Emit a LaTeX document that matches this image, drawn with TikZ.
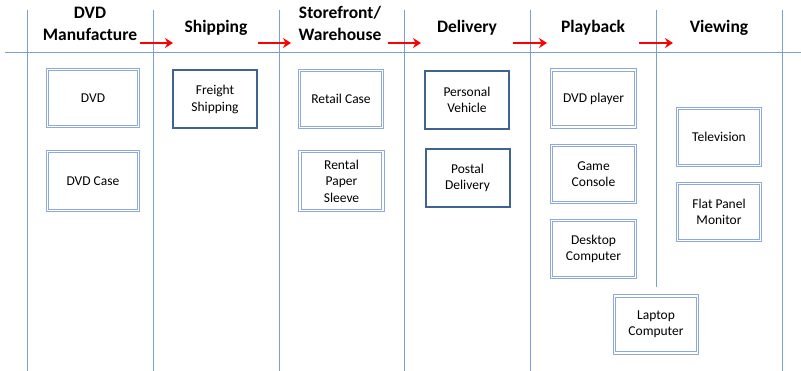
\documentclass[tikz,border=0pt]{standalone}
\usepackage{fontspec}
\setmainfont{Carlito}
\usepackage{xcolor}
\definecolor{lane-blue}{HTML}{7A9FD4}
\definecolor{box-light}{HTML}{8EAADB}
\definecolor{box-dark}{HTML}{3F6393}
\definecolor{flow-red}{HTML}{FF0000}
\usepackage{tikz}
\usetikzlibrary{arrows.meta}

\tikzset{
  lane/.style={lane-blue, line width=0.9pt},
  heading/.style={font=\bfseries\fontsize{17.5}{22}\selectfont, align=center, inner sep=0pt},
  item/.style={font=\fontsize{13.5}{16.5}\selectfont, align=center, inner sep=0pt,
    minimum width=83pt, minimum height=57pt},
  lightbox/.style={item, draw=box-light, line width=0.8pt, double=white, double distance=1.6pt},
  darkbox/.style={item, draw=box-dark, line width=2pt, minimum width=84pt, minimum height=58pt},
  flow/.style={flow-red, line width=2.2pt, -{Stealth[length=8pt, width=10pt]}}
}

\begin{document}
\begin{tikzpicture}[x=1pt, y=-1pt]

    \useasboundingbox (0, 0) rectangle (801, 371);

    % Lanes
    \draw[lane] (5, 52) -- (801, 52);
    \foreach \x in {27, 153, 279, 404, 530, 782}
        \draw[lane] (\x, 10) -- (\x, 371);
    \draw[lane] (656, 10) -- (656, 287);

    % Headings
    \node[heading] (manufacture) at (90, 23.5) {DVD\\Manufacture};
    \node[heading] (shipping) at (216, 28) {Shipping};
    \node[heading] (storefront) at (340, 23.5) {Storefront/\\Warehouse};
    \node[heading] (delivery) at (467, 28) {Delivery};
    \node[heading] (playback) at (593, 28) {Playback};
    \node[heading] (viewing) at (719, 28) {Viewing};

    % Flow arrows
    \coordinate (f1a) at (140, 43); \coordinate (f1b) at (173, 43);
    \coordinate (f2a) at (258, 43); \coordinate (f2b) at (291, 43);
    \coordinate (f3a) at (388, 43); \coordinate (f3b) at (421, 43);
    \coordinate (f4a) at (513, 43); \coordinate (f4b) at (547, 43);
    \coordinate (f5a) at (639, 43); \coordinate (f5b) at (673, 43);
    \foreach \i in {1, ..., 5}
        \draw[flow] (f\i a) -- (f\i b);

    % DVD Manufacture
    \node[lightbox, minimum width=91pt] (dvd) at (93, 98) {DVD};
    \node[lightbox, minimum width=91pt, minimum height=59pt] (dvdcase) at (93, 181) {DVD Case};

    % Shipping
    \node[darkbox] (freight) at (215, 99.5) {Freight\\Shipping};

    % Storefront / Warehouse
    \node[lightbox] (retail) at (341, 99) {Retail Case};
    \node[lightbox, minimum height=59pt] (rental) at (341.5, 181) {Rental\\Paper\\Sleeve};

    % Delivery
    \node[darkbox] (personal) at (467, 100) {Personal\\Vehicle};
    \node[darkbox] (postal) at (467.5, 178) {Postal\\Delivery};

    % Playback
    \node[lightbox, minimum width=84pt] (player) at (593.5, 98.5) {DVD player};
    \node[lightbox, minimum width=84pt] (console) at (593.5, 174) {Game\\Console};
    \node[lightbox, minimum width=84pt] (desktop) at (593.5, 249) {Desktop\\Computer};
    \node[lightbox] (laptop) at (656, 324.5) {Laptop\\Computer};

    % Viewing
    \node[lightbox] (television) at (719, 137) {Television};
    \node[lightbox] (flatpanel) at (719, 212) {Flat Panel\\Monitor};

\end{tikzpicture}
\end{document}
